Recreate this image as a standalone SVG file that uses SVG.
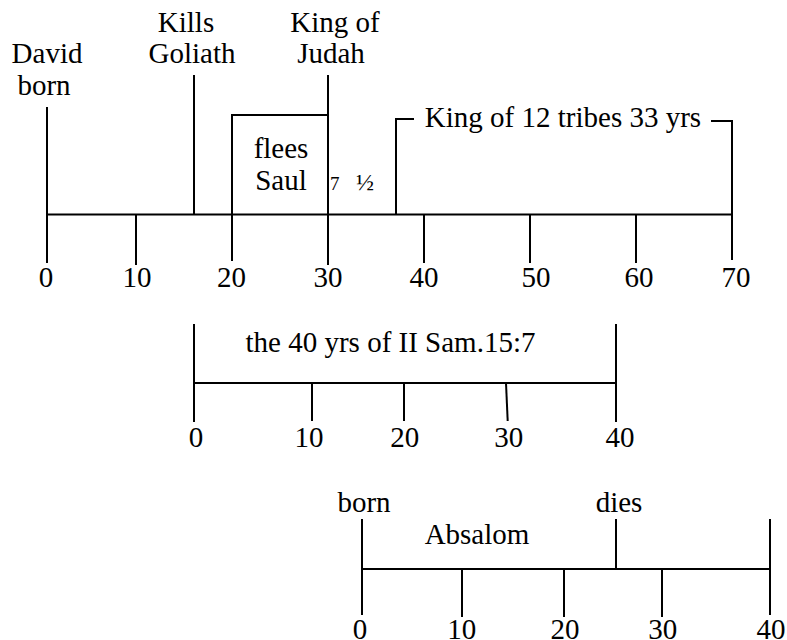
<svg xmlns="http://www.w3.org/2000/svg" width="787" height="640" viewBox="0 0 787 640">
<style>
.ln{stroke:#000;stroke-width:2;fill:none;stroke-linecap:butt}
.t{font-family:"Liberation Serif","Times New Roman",serif;font-size:29px;fill:#000;text-anchor:middle}
.s{font-family:"Liberation Serif","Times New Roman",serif;font-size:19px;fill:#000}
</style>
<rect width="787" height="640" fill="#fff"/>
<g id="connectors">
  <!-- top timeline -->
  <line class="ln" x1="46" y1="214.5" x2="733" y2="214.5"/>
  <line class="ln" x1="47" y1="107" x2="47" y2="263"/>
  <line class="ln" x1="136" y1="214" x2="136" y2="265"/>
  <line class="ln" x1="194" y1="75" x2="194" y2="215"/>
  <polyline class="ln" points="232,261 232,115 328,115"/>
  <line class="ln" x1="328" y1="75" x2="328" y2="265"/>
  <polyline class="ln" points="414,119 396,119 396,215"/>
  <polyline class="ln" points="711,121 732,121 732,260"/>
  <line class="ln" x1="424" y1="214" x2="424" y2="263"/>
  <line class="ln" x1="530" y1="214" x2="530" y2="263"/>
  <line class="ln" x1="636" y1="214" x2="636" y2="263"/>
  <!-- middle timeline -->
  <line class="ln" x1="194" y1="383" x2="616" y2="383"/>
  <line class="ln" x1="194" y1="324" x2="194" y2="422"/>
  <line class="ln" x1="616" y1="324" x2="616" y2="422"/>
  <line class="ln" x1="312" y1="383" x2="312" y2="421"/>
  <line class="ln" x1="404" y1="383" x2="404" y2="421"/>
  <line class="ln" x1="506" y1="383" x2="507.7" y2="421"/>
  <!-- bottom timeline -->
  <line class="ln" x1="362" y1="569" x2="770" y2="569"/>
  <line class="ln" x1="362" y1="519" x2="362" y2="615"/>
  <line class="ln" x1="462" y1="569" x2="462" y2="617"/>
  <line class="ln" x1="564" y1="569" x2="564" y2="617"/>
  <line class="ln" x1="616" y1="519" x2="616" y2="569"/>
  <line class="ln" x1="662" y1="569" x2="662" y2="617"/>
  <line class="ln" x1="770" y1="519" x2="770" y2="615"/>
</g>
<g id="david-born"><text class="t" x="47" y="63">David</text><text class="t" x="44" y="95">born</text></g>
<g id="kills-goliath"><text class="t" x="186" y="32">Kills</text><text class="t" x="192" y="63">Goliath</text></g>
<g id="king-of-judah"><text class="t" x="335" y="32">King of</text><text class="t" x="331" y="63">Judah</text></g>
<g id="flees-saul"><text class="t" x="281" y="158">flees</text><text class="t" x="281" y="190">Saul</text></g>
<g id="seven-half"><text class="s" x="330" y="190">7 <tspan x="356" style="font-size:24px">½</tspan></text></g>
<g id="king-12-tribes"><text class="t" x="563" y="127">King of 12 tribes 33 yrs</text></g>
<g id="top-scale">
  <text class="t" x="46" y="287">0</text>
  <text class="t" x="137" y="287">10</text>
  <text class="t" x="231.5" y="287">20</text>
  <text class="t" x="328" y="287">30</text>
  <text class="t" x="424" y="287">40</text>
  <text class="t" x="536" y="287">50</text>
  <text class="t" x="639" y="287">60</text>
  <text class="t" x="736" y="287">70</text>
</g>
<g id="forty-years"><text class="t" x="390.5" y="352">the 40 yrs of II Sam.15:7</text></g>
<g id="middle-scale">
  <text class="t" x="196" y="447">0</text>
  <text class="t" x="309" y="447">10</text>
  <text class="t" x="404.7" y="447">20</text>
  <text class="t" x="508.7" y="447">30</text>
  <text class="t" x="620" y="447">40</text>
</g>
<g id="absalom">
  <text class="t" x="364" y="512">born</text>
  <text class="t" x="619" y="512">dies</text>
  <text class="t" x="477" y="544">Absalom</text>
</g>
<g id="bottom-scale">
  <text class="t" x="360" y="639">0</text>
  <text class="t" x="461.7" y="639">10</text>
  <text class="t" x="565" y="639">20</text>
  <text class="t" x="662.7" y="639">30</text>
  <text class="t" x="771" y="639">40</text>
</g>
</svg>
